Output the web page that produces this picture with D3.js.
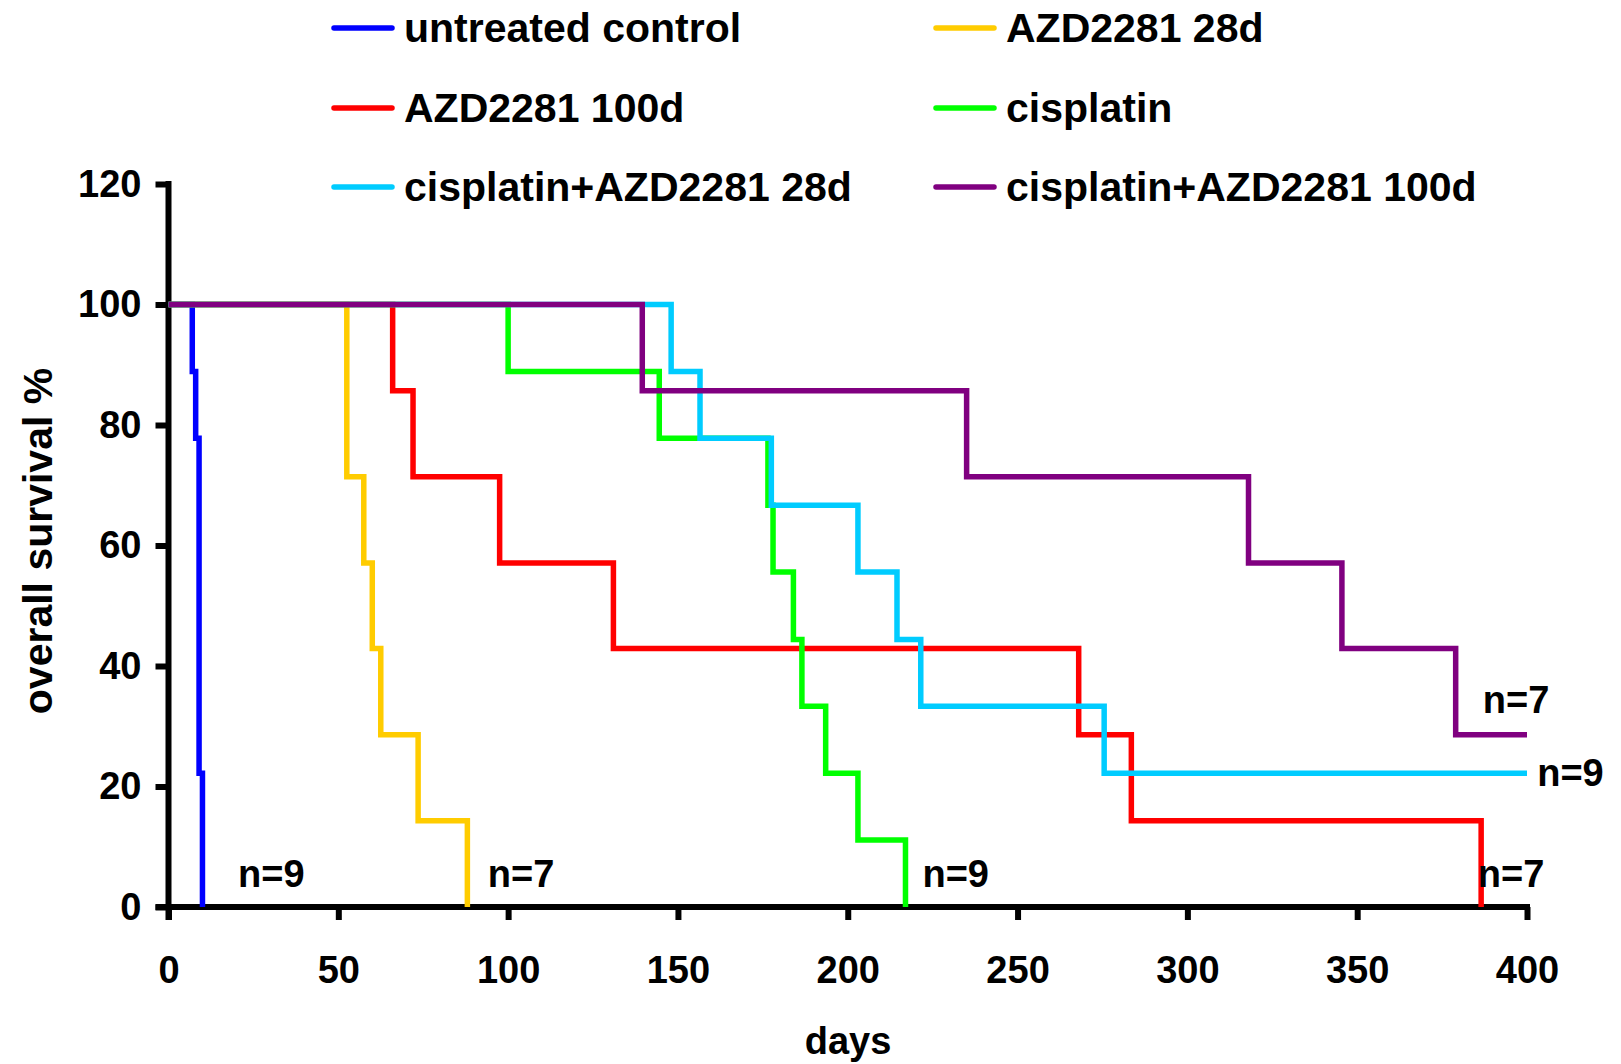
<!DOCTYPE html>
<html>
<head>
<meta charset="utf-8">
<script src="https://cdn.jsdelivr.net/npm/d3@7"></script>
<style>
  body { margin: 0; background: #fff; }
  text { font-family: "Liberation Sans", Arial, sans-serif; font-weight: bold; fill: #000; }
</style>
</head>
<body>
<div id="chart"></div>
<script>
// series names and colours, same order as the legend
const seriesNames = ['untreated control', 'AZD2281 28d', 'AZD2281 100d', 'cisplatin', 'cisplatin+AZD2281 28d', 'cisplatin+AZD2281 100d']
const seriesColors = ['#0000ff', '#ffcc00', '#ff0000', '#00ff00', '#00ccff', '#800080']

// event days and survival after each event (%)
const untreatedDays = [0, 7, 8, 9, 10]
const untreatedSurv = [100, 88.9, 77.8, 22.2, 0]

const azd28Days = [0, 52.5, 57.5, 60, 62.5, 73.5, 88]
const azd28Surv = [100, 71.4, 57.1, 42.9, 28.6, 14.3, 0]

const azd100Days = [0, 66, 72, 97.5, 131, 268, 283.5, 386.5]
const azd100Surv = [100, 85.7, 71.4, 57.1, 42.9, 28.6, 14.3, 0]

const cisDays = [0, 100, 144.5, 176.5, 178, 184, 186.5, 193.5, 203, 217]
const cisSurv = [100, 88.9, 77.8, 66.7, 55.6, 44.4, 33.3, 22.2, 11.1, 0]

const cisAzd28Days = [0, 148, 156.5, 177.5, 203, 214.5, 221.5, 275.5, 400]
const cisAzd28Surv = [100, 88.9, 77.8, 66.7, 55.6, 44.4, 33.3, 22.2, 22.2]

const cisAzd100Days = [0, 139.5, 235, 318, 345.5, 379, 400]
const cisAzd100Surv = [100, 85.7, 71.4, 57.1, 42.9, 28.6, 28.6]

const allDays = [untreatedDays, azd28Days, azd100Days, cisDays, cisAzd28Days, cisAzd100Days]
const allSurv = [untreatedSurv, azd28Surv, azd100Surv, cisSurv, cisAzd28Surv, cisAzd100Surv]

// group size labels and where they sit (days, %)
const nLabels = ['n=9', 'n=7', 'n=9', 'n=7', 'n=9', 'n=7']
const nLabelDays = [20.5, 94, 222, 385.5, 403, 387]
const nLabelSurv = [3.3, 3.3, 3.3, 3.3, 20.1, 32.2]

const xTicks = [0, 50, 100, 150, 200, 250, 300, 350, 400]
const yTicks = [0, 20, 40, 60, 80, 100, 120]

const width = 1621
const height = 1064
const margin = { top: 184, bottom: 157, left: 168.5, right: 94 }

const svg = d3.select('#chart')
    .append('svg')
    .attr('width', width)
    .attr('height', height)

const x = d3.scaleLinear()
    .domain([0, 400])
    .range([margin.left, width - margin.right])

const y = d3.scaleLinear()
    .domain([0, 120])
    .range([height - margin.bottom, margin.top])

const tickLen = 13

// axes
const xAxis = svg.append('g')
    .attr('transform', `translate(0,${y(0)})`)
    .call(d3.axisBottom(x).tickValues(xTicks).tickSize(tickLen).tickSizeOuter(0).tickPadding(36))
xAxis.select('.domain').remove()
xAxis.selectAll('line').attr('stroke', '#000').attr('stroke-width', 6)
xAxis.selectAll('text').attr('font-size', '38px').attr('font-family', null)

const yAxis = svg.append('g')
    .attr('transform', `translate(${x(0)},0)`)
    .call(d3.axisLeft(y).tickValues(yTicks).tickSize(tickLen).tickSizeOuter(0).tickPadding(14))
yAxis.select('.domain').remove()
yAxis.selectAll('line').attr('stroke', '#000').attr('stroke-width', 6)
yAxis.selectAll('text').attr('font-size', '38px').attr('font-family', null)

// axis lines
svg.append('line')
    .attr('x1', x(0) - tickLen).attr('x2', x(400) + 3)
    .attr('y1', y(0)).attr('y2', y(0))
    .attr('stroke', '#000').attr('stroke-width', 6)
svg.append('line')
    .attr('x1', x(0)).attr('x2', x(0))
    .attr('y1', y(120) - 3).attr('y2', y(0) + tickLen)
    .attr('stroke', '#000').attr('stroke-width', 6)

// survival curves
const line = d3.line()
    .x(d => x(d[0]))
    .y(d => y(d[1]))
    .curve(d3.curveStepAfter)

seriesNames.forEach((name, i) => {
    const pts = allDays[i].map((d, j) => [d, allSurv[i][j]])
    svg.append('path')
        .datum(pts)
        .attr('fill', 'none')
        .attr('stroke', seriesColors[i])
        .attr('stroke-width', 5.5)
        .attr('stroke-linejoin', 'miter')
        .attr('d', line)
})

// n labels
svg.append('g')
    .selectAll('text')
    .data(nLabels)
    .join('text')
    .attr('x', (d, i) => x(nLabelDays[i]))
    .attr('y', (d, i) => y(nLabelSurv[i]))
    .attr('font-size', '38px')
    .text(d => d)

// axis titles
svg.append('text')
    .attr('x', 848)
    .attr('y', 1054)
    .attr('text-anchor', 'middle')
    .attr('font-size', '38px')
    .text('days')

svg.append('text')
    .attr('transform', 'translate(52,541) rotate(-90)')
    .attr('text-anchor', 'middle')
    .attr('font-size', '41px')
    .text('overall survival %')

// legend, two columns
const legendX = [334, 936]
const legendY = [28, 108, 187]

const legend = svg.append('g')
    .selectAll('g')
    .data(seriesNames)
    .join('g')
    .attr('transform', (d, i) => `translate(${legendX[i % 2]},${legendY[Math.floor(i / 2)]})`)

legend.append('line')
    .attr('x1', 0).attr('x2', 58)
    .attr('stroke', (d, i) => seriesColors[i])
    .attr('stroke-width', 5.5)
    .attr('stroke-linecap', 'round')

legend.append('text')
    .attr('x', 70)
    .attr('y', 14)
    .attr('font-size', '41px')
    .text(d => d)
</script>
</body>
</html>
